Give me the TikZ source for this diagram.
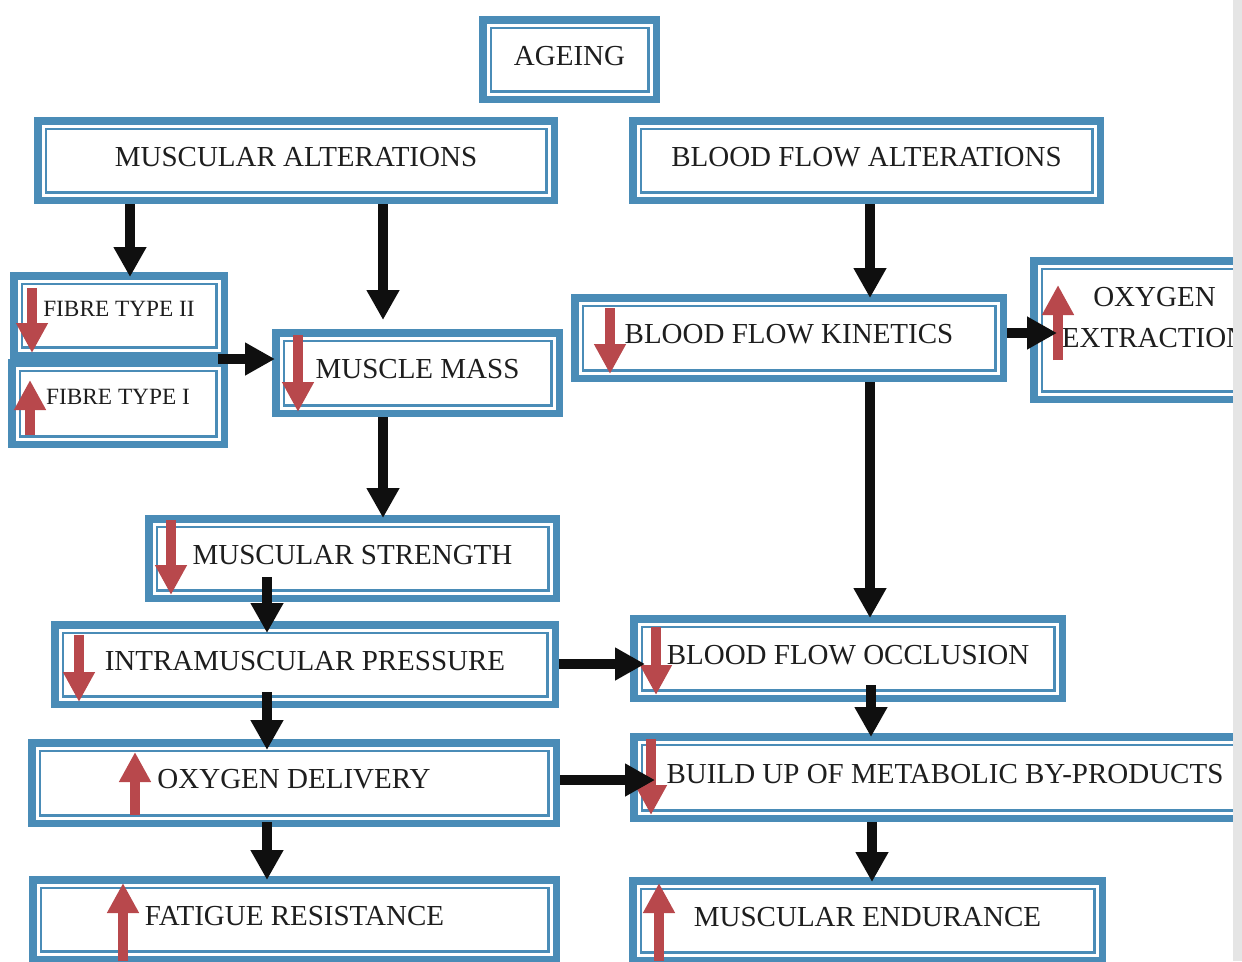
\documentclass[tikz,border=0pt]{standalone}
\usepackage{fontspec}
\setmainfont{Liberation Serif}
\usetikzlibrary{arrows.meta,calc}
\definecolor{bxblue}{RGB}{74,140,183}
\definecolor{arred}{RGB}{184,72,76}
\definecolor{txtc}{RGB}{30,30,30}
\tikzset{
  bx/.style={draw=bxblue, line width=7.5pt, fill=white, inner sep=0pt, text=txtc,
    font=\fontsize{29}{34}\selectfont, text depth=8pt,
    path picture={\draw[bxblue,line width=2.5pt]
      ([xshift=8pt,yshift=-8pt]path picture bounding box.north west) rectangle
      ([xshift=-8pt,yshift=8pt]path picture bounding box.south east);}},
  smallbx/.style={bx, font=\fontsize{23.3}{28}\selectfont, text depth=14pt},
  blk/.style={draw=black!94, line width=10.5pt, -{Triangle[length=30pt,width=31pt]}},
  redarr/.style={draw=arred, line width=10pt, -{Triangle[length=30pt,width=30pt]}},
}
\begin{document}
\begin{tikzpicture}[x=1pt,y=-1pt]
\useasboundingbox (0,0) rectangle (1242,961);
\begin{scope}
\clip (0,0) rectangle (1242,961);
\fill[white] (0,0) rectangle (1242,961);
% boxes
\node[bx, minimum width=173.5pt, minimum height=79.5pt] (ag) at (569.5,59.5) {AGEING};
\node[bx, minimum width=516.5pt, minimum height=79.5pt] (ma) at (296,160.5) {MUSCULAR ALTERATIONS};
\node[bx, minimum width=467.5pt, minimum height=79.5pt] (bfa) at (866.5,160.5) {BLOOD FLOW ALTERATIONS};
\node[smallbx, minimum width=210.5pt, minimum height=79.5pt] (f2) at (119,315.5) {FIBRE TYPE II};
\node[smallbx, minimum width=212.5pt, minimum height=81.5pt] (f1) at (118,403.5) {FIBRE TYPE I};
\node[bx, minimum width=283.5pt, minimum height=80.5pt] (mm) at (417.5,373) {MUSCLE MASS};
\node[bx, minimum width=428.5pt, minimum height=80.5pt] (bfk) at (789,338) {BLOOD FLOW KINETICS};
\node[bx, minimum width=241.5pt, minimum height=138.5pt, align=center,
      font=\fontsize{29}{41}\selectfont, text depth=25pt] (oe) at (1154.5,330) {OXYGEN\\EXTRACTION};
\node[bx, minimum width=407.5pt, minimum height=79.5pt] (ms) at (352.5,558.5) {MUSCULAR STRENGTH};
\node[bx, minimum width=500.5pt, minimum height=79.5pt] (ip) at (305,664.5) {INTRAMUSCULAR PRESSURE};
\node[bx, minimum width=428.5pt, minimum height=79.5pt] (bfo) at (848,658.5) {BLOOD FLOW OCCLUSION};
\node[bx, minimum width=524.5pt, minimum height=80.5pt] (od) at (294,783) {OXYGEN DELIVERY};
\node[bx, minimum width=622.5pt, minimum height=81.5pt] (bu) at (945,777.5) {BUILD UP OF METABOLIC BY-PRODUCTS};
\node[bx, minimum width=523.5pt, minimum height=79.5pt] (fr) at (294.5,919.5) {FATIGUE RESISTANCE};
\node[bx, minimum width=469.5pt, minimum height=79.5pt] (me) at (867.5,920.5) {MUSCULAR ENDURANCE};
% red up/down markers
\draw[redarr] (32,288) -- (32,353);
\draw[redarr] (30,435) -- (30,380);
\draw[redarr] (298,335) -- (298,412);
\draw[redarr] (610,308) -- (610,374);
\draw[redarr] (1058,360) -- (1058,285);
\draw[redarr] (171,520) -- (171,595);
\draw[redarr] (79,635) -- (79,702);
\draw[redarr] (656,627) -- (656,695);
\draw[redarr] (651,739) -- (651,815);
\draw[redarr] (135,815) -- (135,752);
\draw[redarr] (123,961) -- (123,883);
\draw[redarr] (659,961) -- (659,883);
% connector end points
\coordinate (t1) at ([xshift=11pt,yshift=-5pt]f2.north);
\coordinate (t2) at ([xshift=-34.5pt,yshift=9pt]mm.north);
\coordinate (t3) at ([xshift=81pt,yshift=-4pt]bfk.north);
\coordinate (s4) at ([xshift=-10pt]f2.south east);
\coordinate (e4) at ([xshift=3pt]mm.west);
\coordinate (s5) at ([yshift=5pt]bfk.east);
\coordinate (e5) at ([xshift=27pt]oe.west);
\coordinate (t6) at ([xshift=30.5pt,yshift=-3pt]ms.north);
\coordinate (t7) at ([xshift=22pt,yshift=-3pt]bfo.north);
\coordinate (t8) at ([xshift=-38pt,yshift=-12pt]ip.north);
\coordinate (s8) at ([yshift=25pt]ms.south);
\coordinate (t9) at ([xshift=-27pt,yshift=-11pt]od.north);
\coordinate (s9) at ([yshift=16pt]ip.south);
\coordinate (s10) at ([yshift=0.5pt]ip.east);
\coordinate (e10) at ([xshift=15pt]bfo.west);
\coordinate (t11) at ([xshift=-74pt,yshift=-4pt]bu.north);
\coordinate (s11) at ([yshift=17pt]bfo.south);
\coordinate (s12) at ([yshift=3pt]od.east);
\coordinate (e12) at ([xshift=25pt]bu.west);
\coordinate (t13) at ([xshift=-27.5pt,yshift=-4pt]fr.north);
\coordinate (s13) at ([yshift=5pt]od.south);
\coordinate (t14) at ([xshift=4.5pt,yshift=-5pt]me.north);
% connectors
\draw[blk] (ma.south -| t1) -- (t1);
\draw[blk] (ma.south -| t2) -- (t2);
\draw[blk] (bfa.south -| t3) -- (t3);
\draw[blk] (s4) -- (e4 |- s4);
\draw[blk] (s5) -- (e5 |- s5);
\draw[blk] (mm.south -| t6) -- (t6);
\draw[blk] (bfk.south -| t7) -- (t7);
\draw[blk] (s8 -| t8) -- (t8);
\draw[blk] (s9 -| t9) -- (t9);
\draw[blk] (s10) -- (e10 |- s10);
\draw[blk] (s11 -| t11) -- (t11);
\draw[blk] (s12) -- (e12 |- s12);
\draw[blk] (s13 -| t13) -- (t13);
\draw[blk] (bu.south -| t14) -- (t14);
% scanned page edge
\fill[black!10] (1233,0) rectangle (1242,961);
\end{scope}
\end{tikzpicture}
\end{document}
